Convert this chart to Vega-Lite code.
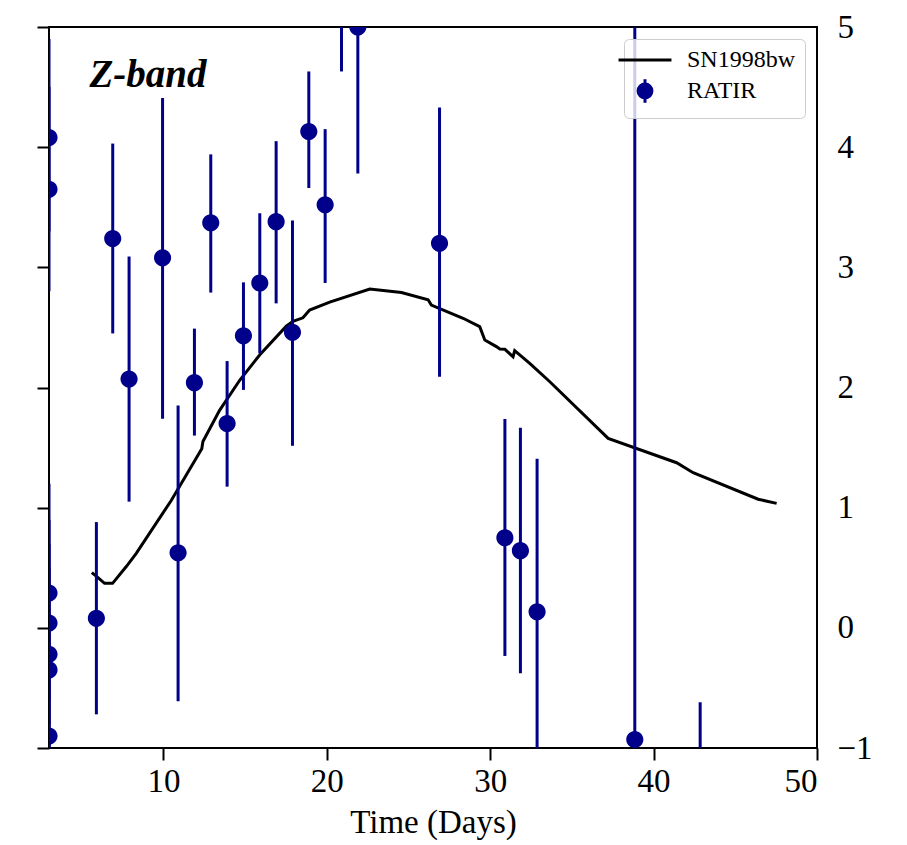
{
  "$schema": "https://vega.github.io/schema/vega-lite/v6.json",
  "width": 768,
  "height": 721,
  "autosize": "none",
  "padding": {"left": 49, "top": 27, "right": 90, "bottom": 97},
  "background": "white",
  "config": {
    "view": {"stroke": "black", "strokeWidth": 2},
    "font": "Liberation Serif",
    "axis": {
      "domain": false,
      "grid": false,
      "labelFont": "Liberation Serif",
      "titleFont": "Liberation Serif",
      "labelFontSize": 33,
      "titleFontSize": 33,
      "titleFontWeight": "normal",
      "labelColor": "black",
      "titleColor": "black",
      "tickColor": "black",
      "tickWidth": 2,
      "tickSize": 12
    },
    "legend": {
      "labelFont": "Liberation Serif",
      "labelFontSize": 24,
      "labelColor": "black",
      "labelOffset": 18
    }
  },
  "datasets": {
    "ratir": [
      {"t": 3, "m": 4.08, "lo": 3.3, "hi": 4.9, "series": "RATIR"},
      {"t": 3, "m": 3.65, "lo": 2.8, "hi": 4.5, "series": "RATIR"},
      {"t": 3, "m": 0.29, "lo": -0.6, "hi": 1.2, "series": "RATIR"},
      {"t": 3, "m": 0.04, "lo": -0.8, "hi": 0.9, "series": "RATIR"},
      {"t": 3, "m": -0.22, "lo": -1.1, "hi": 0.7, "series": "RATIR"},
      {"t": 3, "m": -0.35, "lo": -1.2, "hi": 0.5, "series": "RATIR"},
      {"t": 3, "m": -0.9, "lo": -1.8, "hi": 0.0, "series": "RATIR"},
      {"t": 5.9, "m": 0.08, "lo": -0.72, "hi": 0.88, "series": "RATIR"},
      {"t": 6.9, "m": 3.24, "lo": 2.45, "hi": 4.03, "series": "RATIR"},
      {"t": 7.9, "m": 2.07, "lo": 1.05, "hi": 3.09, "series": "RATIR"},
      {"t": 9.95, "m": 3.08, "lo": 1.74, "hi": 4.41, "series": "RATIR"},
      {"t": 10.9, "m": 0.625, "lo": -0.61, "hi": 1.85, "series": "RATIR"},
      {"t": 11.9, "m": 2.04, "lo": 1.6, "hi": 2.49, "series": "RATIR"},
      {"t": 12.9, "m": 3.37, "lo": 2.79, "hi": 3.94, "series": "RATIR"},
      {"t": 13.9, "m": 1.7, "lo": 1.175, "hi": 2.22, "series": "RATIR"},
      {"t": 14.9, "m": 2.43, "lo": 1.98, "hi": 2.875, "series": "RATIR"},
      {"t": 15.9, "m": 2.87, "lo": 2.285, "hi": 3.45, "series": "RATIR"},
      {"t": 16.9, "m": 3.38, "lo": 2.7, "hi": 4.05, "series": "RATIR"},
      {"t": 17.9, "m": 2.46, "lo": 1.515, "hi": 3.39, "series": "RATIR"},
      {"t": 18.9, "m": 4.13, "lo": 3.66, "hi": 4.63, "series": "RATIR"},
      {"t": 19.9, "m": 3.52, "lo": 2.87, "hi": 4.15, "series": "RATIR"},
      {"t": 20.9, "m": 5.4, "lo": 4.63, "hi": 6.17, "series": "RATIR"},
      {"t": 21.9, "m": 5.0, "lo": 3.78, "hi": 6.22, "series": "RATIR"},
      {"t": 26.9, "m": 3.2, "lo": 2.09, "hi": 4.33, "series": "RATIR"},
      {"t": 30.9, "m": 0.75, "lo": -0.234, "hi": 1.738, "series": "RATIR"},
      {"t": 31.85, "m": 0.642, "lo": -0.378, "hi": 1.665, "series": "RATIR"},
      {"t": 32.87, "m": 0.134, "lo": -1.14, "hi": 1.408, "series": "RATIR"},
      {"t": 38.85, "m": -0.93, "lo": -3.0, "hi": 5.5, "series": "RATIR"},
      {"t": 42.85, "m": -1.8, "lo": -3.0, "hi": -0.62, "series": "RATIR"}
    ],
    "sn": [
      {"t": 5.62, "m": 0.46, "series": "SN1998bw"},
      {"t": 5.89, "m": 0.43, "series": "SN1998bw"},
      {"t": 6.4, "m": 0.37, "series": "SN1998bw"},
      {"t": 6.89, "m": 0.37, "series": "SN1998bw"},
      {"t": 7.73, "m": 0.51, "series": "SN1998bw"},
      {"t": 8.34, "m": 0.62, "series": "SN1998bw"},
      {"t": 10.48, "m": 1.06, "series": "SN1998bw"},
      {"t": 12.35, "m": 1.49, "series": "SN1998bw"},
      {"t": 12.42, "m": 1.55, "series": "SN1998bw"},
      {"t": 13.44, "m": 1.81, "series": "SN1998bw"},
      {"t": 14.67, "m": 2.06, "series": "SN1998bw"},
      {"t": 15.89, "m": 2.27, "series": "SN1998bw"},
      {"t": 17.52, "m": 2.51, "series": "SN1998bw"},
      {"t": 17.93, "m": 2.55, "series": "SN1998bw"},
      {"t": 18.54, "m": 2.58, "series": "SN1998bw"},
      {"t": 18.95, "m": 2.645, "series": "SN1998bw"},
      {"t": 20.18, "m": 2.71, "series": "SN1998bw"},
      {"t": 22.63, "m": 2.82, "series": "SN1998bw"},
      {"t": 24.57, "m": 2.79, "series": "SN1998bw"},
      {"t": 26.2, "m": 2.73, "series": "SN1998bw"},
      {"t": 26.4, "m": 2.686, "series": "SN1998bw"},
      {"t": 28.34, "m": 2.576, "series": "SN1998bw"},
      {"t": 29.36, "m": 2.506, "series": "SN1998bw"},
      {"t": 29.67, "m": 2.395, "series": "SN1998bw"},
      {"t": 30.38, "m": 2.34, "series": "SN1998bw"},
      {"t": 30.59, "m": 2.32, "series": "SN1998bw"},
      {"t": 30.9, "m": 2.318, "series": "SN1998bw"},
      {"t": 31.4, "m": 2.256, "series": "SN1998bw"},
      {"t": 31.5, "m": 2.306, "series": "SN1998bw"},
      {"t": 32.42, "m": 2.2, "series": "SN1998bw"},
      {"t": 33.65, "m": 2.048, "series": "SN1998bw"},
      {"t": 37.22, "m": 1.577, "series": "SN1998bw"},
      {"t": 41.41, "m": 1.374, "series": "SN1998bw"},
      {"t": 42.42, "m": 1.291, "series": "SN1998bw"},
      {"t": 46.4, "m": 1.07, "series": "SN1998bw"},
      {"t": 47.53, "m": 1.036, "series": "SN1998bw"}
    ],
    "label": [
      {"t": 5.48, "m": 4.5, "text": "Z-band"}
    ]
  },
  "resolve": {"scale": {"y": "shared", "x": "shared"}, "axis": {"y": "independent"}},
  "layer": [
    {
      "data": {"name": "sn"},
      "mark": {"type": "line", "color": "black", "strokeWidth": 3, "clip": true},
      "encoding": {
        "x": {"field": "t", "type": "quantitative", "scale": {"domain": [3, 50], "nice": false, "zero": false},
              "axis": {"values": [10, 20, 30, 40, 50], "title": "Time (Days)", "labelPadding": 5, "titlePadding": 8}},
        "y": {"field": "m", "type": "quantitative", "scale": {"domain": [-1, 5], "nice": false, "zero": false},
              "axis": {"orient": "left", "values": [-1, 0, 1, 2, 3, 4, 5], "labels": false, "title": null}},
        "color": {"field": "series", "type": "nominal",
                  "scale": {"domain": ["SN1998bw", "RATIR"], "range": ["black", "#00008b"]},
                  "legend": {
                    "title": null, "orient": "top-right", "offset": 12,
                    "strokeColor": "#cccccc", "cornerRadius": 5, "fillColor": "rgba(255,255,255,0.8)",
                    "padding": 9, "labelOffset": 18, "rowPadding": 1, "symbolSize": 2800, "symbolStrokeWidth": 3,
                    "encode": {
                      "symbols": {"update": {
                        "stroke": {"scale": "color", "field": "value"},
                        "strokeWidth": {"value": 3},
                        "size": {"signal": "datum.value === 'SN1998bw' ? 2800 : 150"}
                      }},
                      "labels": {"update": {"dx": {"value": 12}}}
                    }
                  }}
      }
    },
    {
      "data": {"name": "ratir"},
      "mark": {"type": "rule", "color": "#00008b", "strokeWidth": 3, "clip": true},
      "encoding": {
        "x": {"field": "t", "type": "quantitative", "axis": {"values": [10, 20, 30, 40, 50], "title": "Time (Days)", "labelPadding": 5, "titlePadding": 8}},
        "y": {"field": "lo", "type": "quantitative", "axis": null},
        "y2": {"field": "hi"}
      }
    },
    {
      "data": {"name": "ratir"},
      "mark": {"type": "point", "filled": true, "size": 230, "opacity": 1, "clip": true},
      "encoding": {
        "x": {"field": "t", "type": "quantitative", "axis": {"values": [10, 20, 30, 40, 50], "title": "Time (Days)", "labelPadding": 5, "titlePadding": 8}},
        "y": {"field": "m", "type": "quantitative",
              "axis": {"orient": "right", "values": [-1, 0, 1, 2, 3, 4, 5], "ticks": false, "tickSize": 0, "labelPadding": 20, "title": null}},
        "color": {"field": "series", "type": "nominal"},
        "shape": {"field": "series", "type": "nominal",
                  "scale": {"domain": ["SN1998bw", "RATIR"], "range": ["stroke", "M0,-1.9V1.9M-1.13,0A1.13,1.13 0 1,0 1.13,0A1.13,1.13 0 1,0 -1.13,0Z"]},
                  "legend": {"title": null}}
      }
    },
    {
      "data": {"name": "label"},
      "mark": {"type": "text", "align": "left", "baseline": "alphabetic", "font": "Liberation Serif",
               "fontStyle": "italic", "fontWeight": "bold", "fontSize": 39, "color": "black"},
      "encoding": {
        "x": {"field": "t", "type": "quantitative", "axis": {"values": [10, 20, 30, 40, 50], "title": "Time (Days)", "labelPadding": 5, "titlePadding": 8}},
        "y": {"field": "m", "type": "quantitative", "axis": null},
        "text": {"field": "text"}
      }
    }
  ]
}
